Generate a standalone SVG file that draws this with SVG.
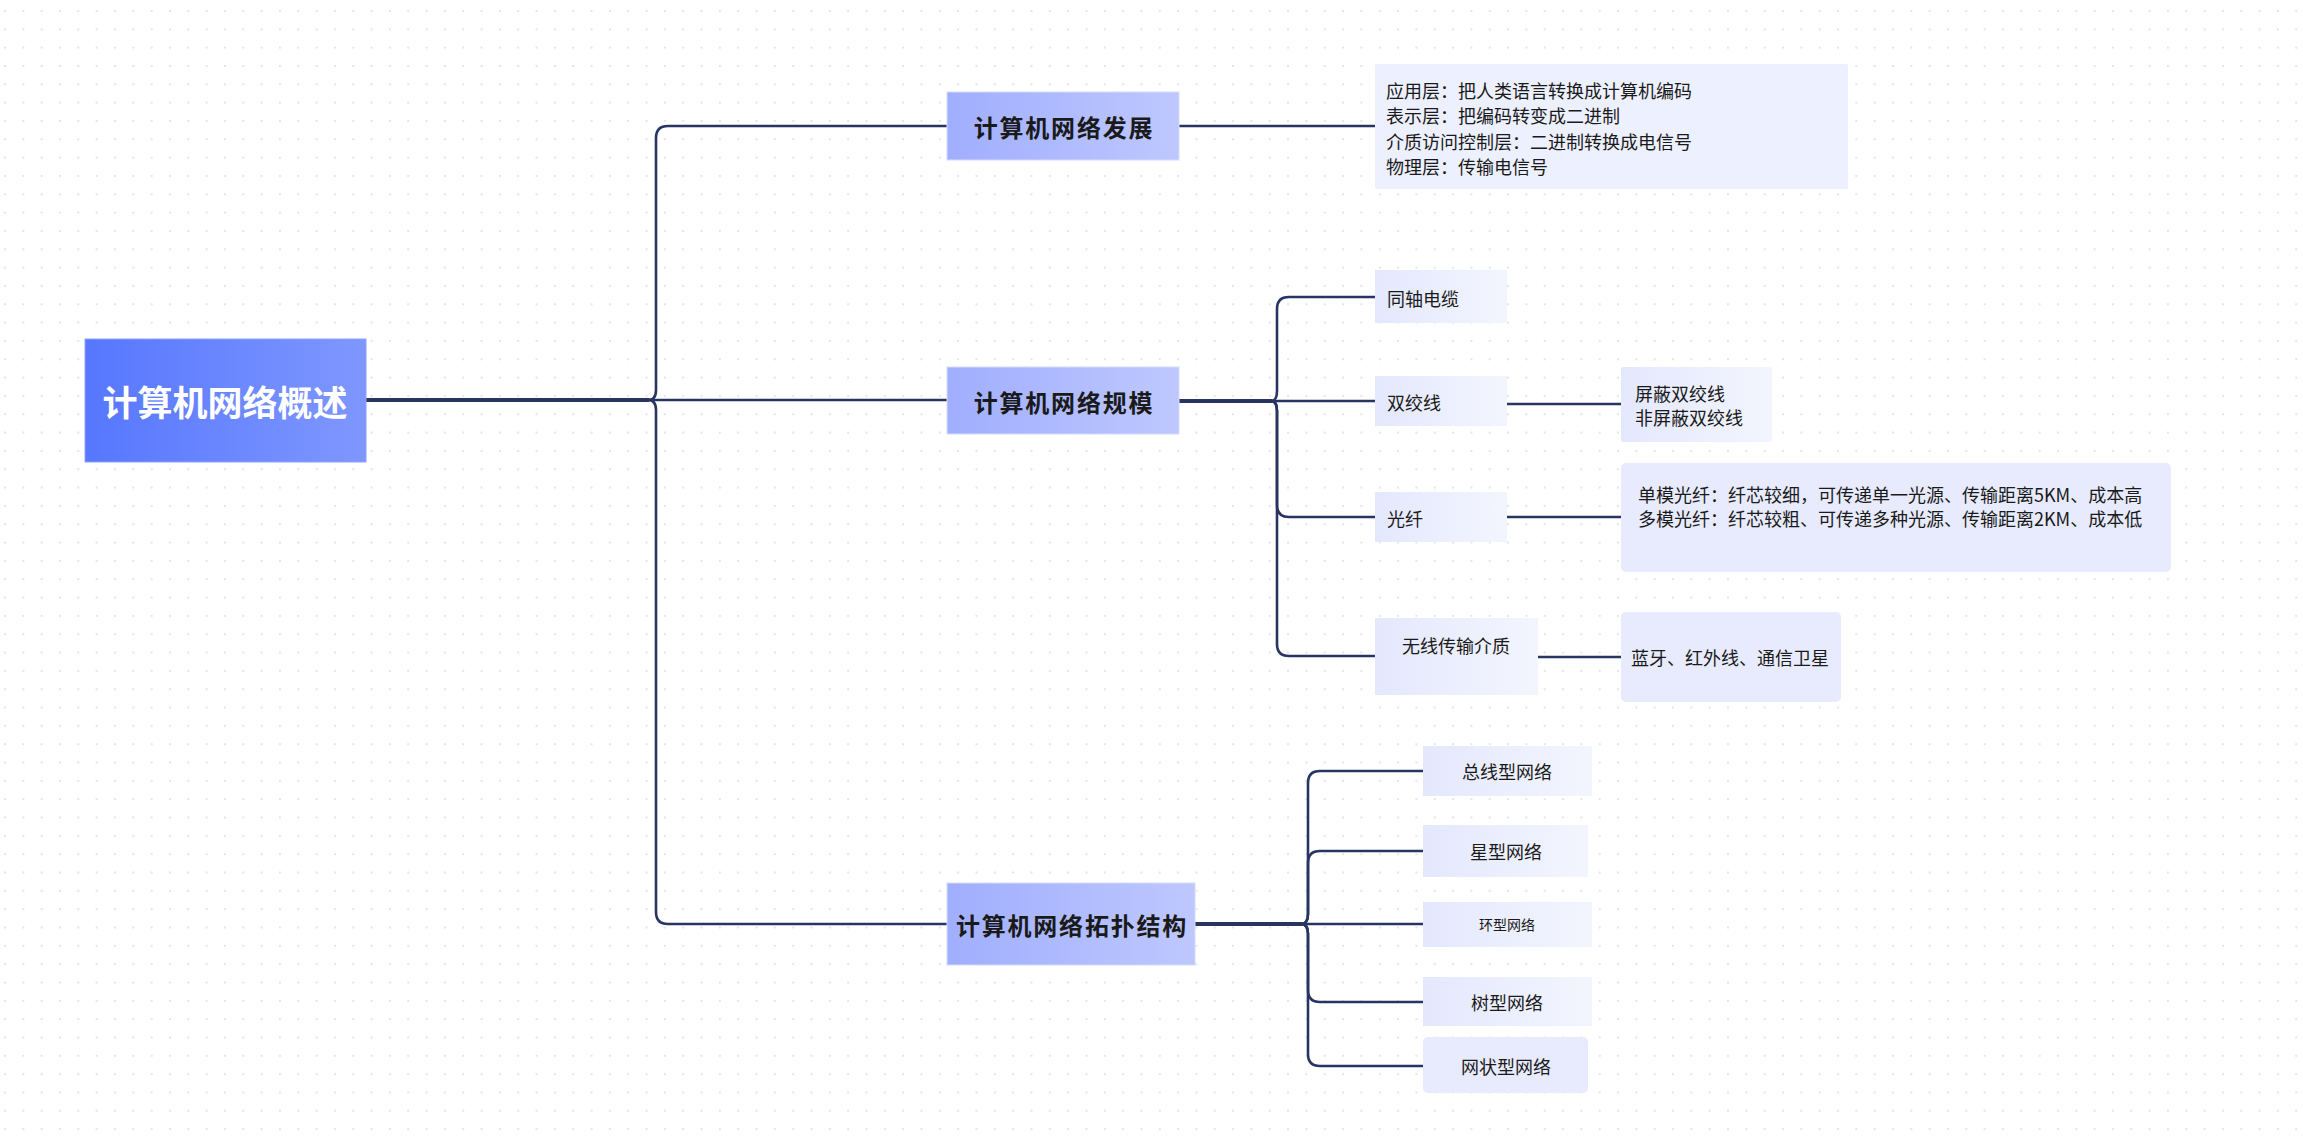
<svg xmlns="http://www.w3.org/2000/svg" width="2303" height="1141" viewBox="0 0 2303 1141">
<defs>
<pattern id="dots" patternUnits="userSpaceOnUse" x="4" y="10" width="18.33" height="18.33">
<rect x="0" y="0" width="2" height="2" fill="#e4e5eb"/>
</pattern>
<linearGradient id="gRoot" x1="0" y1="0" x2="1" y2="0">
<stop offset="0" stop-color="#5677fe"/>
<stop offset="1" stop-color="#7f97ff"/>
</linearGradient>
<linearGradient id="gBranch" x1="0" y1="0" x2="1" y2="0">
<stop offset="0" stop-color="#a0aefe"/>
<stop offset="1" stop-color="#bec8fe"/>
</linearGradient>
<linearGradient id="gChild" x1="0" y1="0" x2="1" y2="0">
<stop offset="0" stop-color="#e4e8fd"/>
<stop offset="1" stop-color="#f3f5fe"/>
</linearGradient>
<style>
text{font-family:"Noto Sans CJK SC","Noto Sans",sans-serif;fill:#1a1a1a;dominant-baseline:central}
.root{font-size:35px;font-weight:bold;fill:#ffffff}
.br{font-size:24px;font-weight:bold;letter-spacing:1.8px}
.ch{font-size:18px}
.sm{font-size:14px}
.rootbox{fill:url(#gRoot);stroke:#8ea2ff;stroke-width:1}
.brbox{fill:url(#gBranch);stroke:#d5dbff;stroke-width:1}
.chbox{fill:url(#gChild)}
.detbox{fill:#e7ebfd}
.det1{fill:#edf0fe}
.ln{fill:none;stroke:#283563;stroke-width:2.6;stroke-linecap:round;stroke-linejoin:round}
.thick{stroke-width:3.8}
</style>
</defs>
<rect width="2303" height="1141" fill="#ffffff"/>
<rect width="2303" height="1141" fill="url(#dots)"/>

<g id="connectors">
<path class="ln thick" d="M366,400 H648"/>
<path class="ln" d="M648,400 Q656,400 656,390 V138 Q656,126 668,126 H947"/>
<path class="ln" d="M648,400 H947"/>
<path class="ln" d="M648,400 Q656,400 656,410 V912 Q656,924 668,924 H947"/>
<path class="ln" d="M1179,126 H1375"/>
<path class="ln thick" d="M1179,401 H1271"/>
<path class="ln" d="M1271,401 Q1277,401 1277,391 V309 Q1277,297 1289,297 H1375"/>
<path class="ln" d="M1271,401 H1375"/>
<path class="ln" d="M1271,401 Q1277,401 1277,411 V505 Q1277,517 1289,517 H1375"/>
<path class="ln" d="M1271,401 Q1277,401 1277,411 V644 Q1277,656 1289,656 H1375"/>
<path class="ln" d="M1507,404 H1621"/>
<path class="ln" d="M1507,517 H1621"/>
<path class="ln" d="M1538,657 H1621"/>
<path class="ln thick" d="M1195,924 H1301"/>
<path class="ln" d="M1301,924 Q1308,924 1308,914 V783 Q1308,771 1320,771 H1423"/>
<path class="ln" d="M1301,924 Q1308,924 1308,914 V863 Q1308,851 1320,851 H1423"/>
<path class="ln" d="M1301,924 H1423"/>
<path class="ln" d="M1301,924 Q1308,924 1308,934 V990 Q1308,1002 1320,1002 H1423"/>
<path class="ln" d="M1301,924 Q1308,924 1308,934 V1054 Q1308,1066 1320,1066 H1423"/>
</g>

<g id="root">
<rect class="rootbox" x="85" y="339" width="281" height="123"/>
<text class="root" x="225" y="400" text-anchor="middle">计算机网络概述</text>
</g>

<g id="n-fazhan">
<rect class="brbox" x="947" y="92" width="232" height="68"/>
<text class="br" x="1064" y="126" text-anchor="middle">计算机网络发展</text>
</g>
<g id="n-fazhan-detail">
<rect class="det1" x="1375" y="64" width="473" height="125" rx="2"/>
<text class="ch" x="1386" y="90">应用层：把人类语言转换成计算机编码</text>
<text class="ch" x="1386" y="115">表示层：把编码转变成二进制</text>
<text class="ch" x="1386" y="141">介质访问控制层：二进制转换成电信号</text>
<text class="ch" x="1386" y="166">物理层：传输电信号</text>
</g>

<g id="n-guimo">
<rect class="brbox" x="947" y="367" width="232" height="67"/>
<text class="br" x="1064" y="401" text-anchor="middle">计算机网络规模</text>
</g>
<g id="n-tongzhou">
<rect class="chbox" x="1375" y="270" width="132" height="53"/>
<text class="ch" x="1387" y="298">同轴电缆</text>
</g>
<g id="n-shuangjiao">
<rect class="chbox" x="1375" y="376" width="132" height="50"/>
<text class="ch" x="1387" y="402">双绞线</text>
</g>
<g id="n-shuangjiao-detail">
<rect class="chbox" x="1621" y="367" width="151" height="75" rx="2"/>
<text class="ch" x="1635" y="393">屏蔽双绞线</text>
<text class="ch" x="1635" y="417">非屏蔽双绞线</text>
</g>
<g id="n-guangxian">
<rect class="chbox" x="1375" y="492" width="132" height="50"/>
<text class="ch" x="1387" y="518">光纤</text>
</g>
<g id="n-guangxian-detail">
<rect class="detbox" x="1621" y="463" width="550" height="109" rx="5"/>
<text class="ch" x="1638" y="494">单模光纤：纤芯较细，可传递单一光源、传输距离5KM、成本高</text>
<text class="ch" x="1638" y="518">多模光纤：纤芯较粗、可传递多种光源、传输距离2KM、成本低</text>
</g>
<g id="n-wuxian">
<rect class="chbox" x="1375" y="618" width="163" height="77"/>
<text class="ch" x="1456" y="645" text-anchor="middle">无线传输介质</text>
</g>
<g id="n-wuxian-detail">
<rect class="detbox" x="1621" y="612" width="220" height="90" rx="5"/>
<text class="ch" x="1631" y="657">蓝牙、红外线、通信卫星</text>
</g>

<g id="n-tuopu">
<rect class="brbox" x="947" y="883" width="248" height="82"/>
<text class="br" x="1072" y="924" text-anchor="middle">计算机网络拓扑结构</text>
</g>
<g id="n-zongxian">
<rect class="chbox" x="1423" y="746" width="169" height="50"/>
<text class="ch" x="1507" y="771" text-anchor="middle">总线型网络</text>
</g>
<g id="n-xingxing">
<rect class="chbox" x="1423" y="825" width="165" height="52"/>
<text class="ch" x="1506" y="851" text-anchor="middle">星型网络</text>
</g>
<g id="n-huanxing">
<rect class="chbox" x="1423" y="902" width="169" height="45"/>
<text class="sm" x="1507" y="924" text-anchor="middle">环型网络</text>
</g>
<g id="n-shuxing">
<rect class="chbox" x="1423" y="977" width="169" height="49"/>
<text class="ch" x="1507" y="1002" text-anchor="middle">树型网络</text>
</g>
<g id="n-wangzhuang">
<rect class="detbox" x="1423" y="1037" width="165" height="56" rx="5"/>
<text class="ch" x="1506" y="1066" text-anchor="middle">网状型网络</text>
</g>
</svg>
